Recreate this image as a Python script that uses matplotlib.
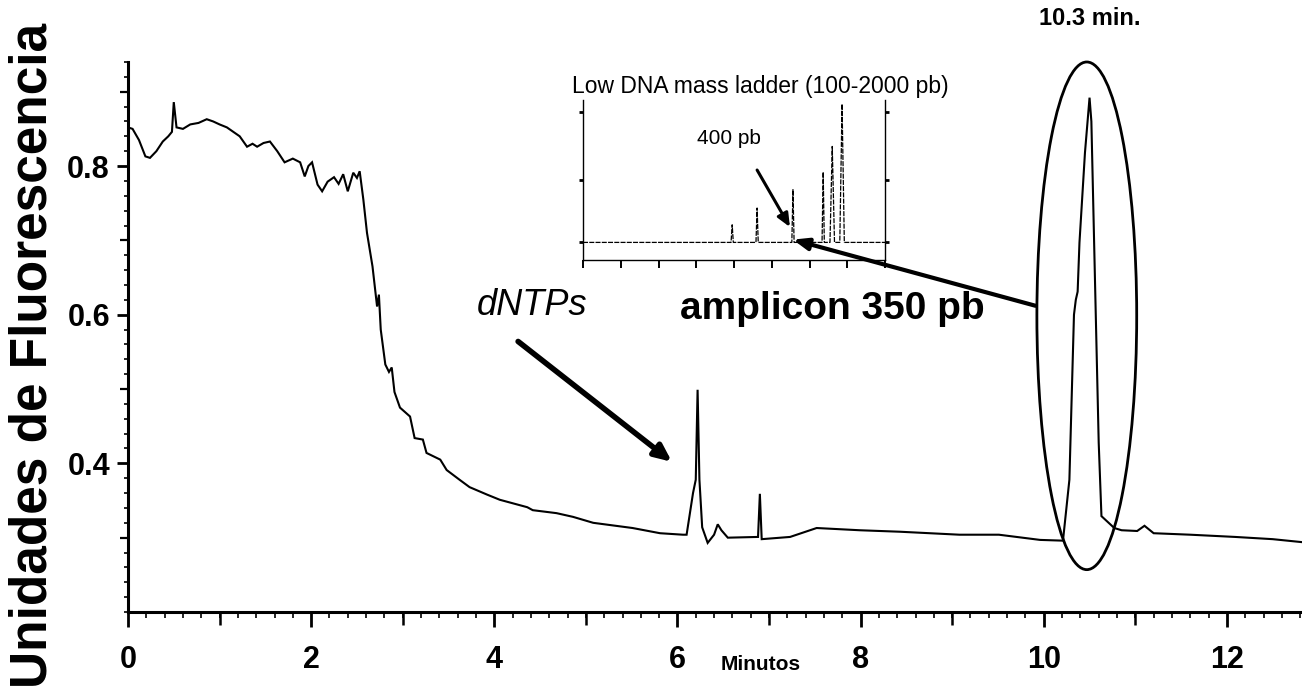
"""
Electroferograma del amplicón de 350 pb con el marcador Low DNA mass ladder.
"""

import matplotlib.pyplot as plt
from matplotlib.patches import Ellipse
from matplotlib.ticker import MultipleLocator

# Traza principal: tiempo (min) y unidades de fluorescencia
minutos = [0.00, 0.05, 0.12, 0.19, 0.24, 0.31, 0.38, 0.44, 0.48, 0.50, 0.53,
           0.60, 0.68, 0.77, 0.86, 0.93, 1.00, 1.08, 1.15, 1.22, 1.30, 1.36,
           1.41, 1.48, 1.55, 1.63, 1.71, 1.80, 1.88, 1.93, 1.97, 2.01, 2.07,
           2.12, 2.18, 2.25, 2.30, 2.35, 2.40, 2.46, 2.50, 2.53, 2.57, 2.61,
           2.67, 2.72, 2.74, 2.76, 2.81, 2.85, 2.88, 2.91, 2.97, 3.08, 3.13,
           3.22, 3.26, 3.41, 3.48, 3.62, 3.73, 3.92, 4.06, 4.36, 4.42, 4.68,
           4.86, 5.08, 5.51, 5.81, 6.06, 6.10, 6.17, 6.20, 6.22, 6.24, 6.27,
           6.33, 6.40, 6.44, 6.48, 6.55, 6.88, 6.90, 6.92, 7.23, 7.52, 7.99,
           8.43, 9.08, 9.51, 9.96, 10.21, 10.28, 10.33, 10.35, 10.37, 10.39,
           10.45, 10.50, 10.52, 10.56, 10.60, 10.63, 10.77, 10.85, 11.02,
           11.10, 11.20, 11.60, 12.09, 12.50, 12.82]
fluorescencia = [0.852, 0.850, 0.835, 0.813, 0.811, 0.820, 0.833, 0.840,
                 0.846, 0.886, 0.852, 0.850, 0.856, 0.858, 0.863, 0.860,
                 0.856, 0.852, 0.846, 0.840, 0.826, 0.830, 0.826, 0.831,
                 0.833, 0.820, 0.805, 0.810, 0.805, 0.786, 0.800, 0.805,
                 0.775, 0.766, 0.779, 0.785, 0.776, 0.789, 0.766, 0.791,
                 0.784, 0.793, 0.755, 0.710, 0.665, 0.611, 0.627, 0.580,
                 0.533, 0.523, 0.529, 0.496, 0.475, 0.463, 0.434, 0.432,
                 0.414, 0.405, 0.391, 0.378, 0.368, 0.358, 0.351, 0.341,
                 0.337, 0.333, 0.328, 0.320, 0.313, 0.306, 0.304, 0.304,
                 0.360, 0.378, 0.499, 0.378, 0.314, 0.293, 0.304, 0.318,
                 0.310, 0.300, 0.301, 0.359, 0.298, 0.301, 0.313, 0.310,
                 0.308, 0.304, 0.304, 0.297, 0.296, 0.378, 0.600, 0.620,
                 0.631, 0.697, 0.818, 0.892, 0.860, 0.643, 0.428, 0.329,
                 0.313, 0.310, 0.309, 0.316, 0.306, 0.304, 0.301, 0.298,
                 0.294]
x_ticks = [0, 2, 4, 6, 8, 10, 12]
y_ticks = [0.4, 0.6, 0.8]

# Recuadro: marcador Low DNA mass ladder
ladder_pos = [3.95, 4.61, 5.56, 6.36, 6.60, 6.86]
ladder_alt = [0.22, 0.325, 0.44, 0.55, 0.71, 0.975]
ladder_base = 0.11
ladder_ticks = [0, 1, 2, 3, 4, 5, 6, 7, 8]

# Pico del amplicón
t_amplicon = 10.47
ventana = (1.09, 0.683)

negro = '#000000'
narrow = ['Liberation Sans Narrow', 'Liberation Sans', 'DejaVu Sans']
arial = ['Liberation Sans', 'DejaVu Sans']

fig = plt.figure(figsize=(13.02, 6.98), dpi=100)
ax = fig.add_axes([0.0983, 0.1232, 0.9017, 0.788])

ax.plot(minutos, fluorescencia, color=negro, lw=1.5, solid_joinstyle='miter')

ax.set_xlim(0, 12.82)
ax.set_ylim(0.2, 0.94)
for s in ['top', 'right']:
    ax.spines[s].set_visible(False)
for s in ['left', 'bottom']:
    ax.spines[s].set_linewidth(2.2)

ax.set_xticks(x_ticks)
ax.set_xticklabels([str(t) for t in x_ticks])
ax.xaxis.set_minor_locator(MultipleLocator(0.2))
ax.set_yticks(y_ticks)
ax.set_yticklabels([f'{t:.1f}' for t in y_ticks])
ax.yaxis.set_minor_locator(MultipleLocator(0.02))
ax.tick_params(axis='x', which='major', length=11, width=2, pad=13,
               labelsize=22)
ax.tick_params(axis='x', which='minor', length=4, width=1.2)
ax.tick_params(axis='y', which='major', length=8, width=2, pad=5,
               labelsize=22)
ax.tick_params(axis='y', which='minor', length=3, width=1.2)
for lab in ax.get_xticklabels() + ax.get_yticklabels():
    lab.set_family(narrow)
    lab.set_fontweight('bold')

# marcas intermedias en minutos impares y cada 0.1 en el eje y
sec_x = ax.secondary_xaxis('bottom')
sec_x.set_xticks([1, 3, 5, 7, 9, 11])
sec_x.set_xticklabels([])
sec_x.tick_params(length=9, width=1.8)
sec_x.spines['bottom'].set_visible(False)
sec_y = ax.secondary_yaxis('left')
sec_y.set_yticks([0.3, 0.5, 0.7, 0.9])
sec_y.set_yticklabels([])
sec_y.tick_params(length=6, width=1.6)
sec_y.spines['left'].set_visible(False)

fig.text(0.0253, 0.4914, 'Unidades de Fluorescencia', rotation=90,
         ha='center', va='center', fontsize=37, fontweight='bold',
         family=arial)
fig.text(0.5845, 0.0487, 'Minutos', ha='center', va='center',
         fontsize=15, fontweight='bold', family=arial)

# pico del amplicón rodeado
ax.add_patch(Ellipse((t_amplicon, 0.5985), ventana[0], ventana[1],
                     fill=False, lw=2.0, color=negro, clip_on=False))
ax.text(t_amplicon + 0.03, 0.998, '10.3 min.', ha='center', va='center',
        fontsize=17, fontweight='bold', family=arial, clip_on=False)

ax.text(4.41, 0.612, 'dNTPs', ha='center', va='center', fontsize=26,
        style='italic', family=arial)
ax.annotate('', xy=(5.94, 0.402), xytext=(4.26, 0.564),
            arrowprops=dict(arrowstyle='-|>,head_length=1.0,head_width=0.45',
                            lw=4, color=negro, shrinkA=0, shrinkB=0))
ax.text(7.69, 0.607, 'amplicon 350 pb', ha='center', va='center',
        fontsize=28, fontweight='bold', family=arial)

# recuadro con el marcador de peso molecular
ins = fig.add_axes([0.4478, 0.6275, 0.232, 0.2292])
ins.patch.set_alpha(0)
xs, ys = [0.0], [ladder_base]
for p, h in zip(ladder_pos, ladder_alt):
    w = 0.03 if h < 0.6 else 0.06
    xs += [p - w, p, p + w]
    ys += [ladder_base, h, ladder_base]
xs.append(8.0)
ys.append(ladder_base)
ins.plot(xs, ys, color=negro, lw=0.9, ls=(0, (4, 1)))
ins.set_xlim(0, 8)
ins.set_ylim(0, 1.0)
ins.spines['top'].set_visible(False)
for s in ['left', 'right', 'bottom']:
    ins.spines[s].set_linewidth(1.0)
    ins.spines[s].set_linestyle((0, (6, 1)))
ins.set_xticks(ladder_ticks)
ins.set_xticklabels([])
ins.tick_params(axis='x', length=6, width=1.4, direction='out')
ins.set_yticks([ladder_base, 0.5, 0.925])
ins.set_yticklabels([])
ins.tick_params(axis='y', length=3, width=2, left=True, right=True)
ins.set_title('Low DNA mass ladder (100-2000 pb)', fontsize=16.5,
              family=arial, loc='left', x=-0.035, pad=5)
ins.text(3.87, 0.76, '400 pb', ha='center', va='center', fontsize=15,
         family=arial)
ins.annotate('', xy=(5.48, 0.206), xytext=(4.61, 0.5625),
             arrowprops=dict(arrowstyle='-|>,head_length=0.8,head_width=0.35',
                             lw=2.2, color=negro, shrinkA=0, shrinkB=0))

# flecha del amplicón hacia la banda de 350 pb
ax.annotate('', xy=(7.26, 0.701), xytext=(9.91, 0.612),
            arrowprops=dict(arrowstyle='-|>,head_length=0.9,head_width=0.35',
                            lw=3, color=negro, shrinkA=0, shrinkB=0),
            zorder=5)

fig.savefig('out.png', dpi=100)
